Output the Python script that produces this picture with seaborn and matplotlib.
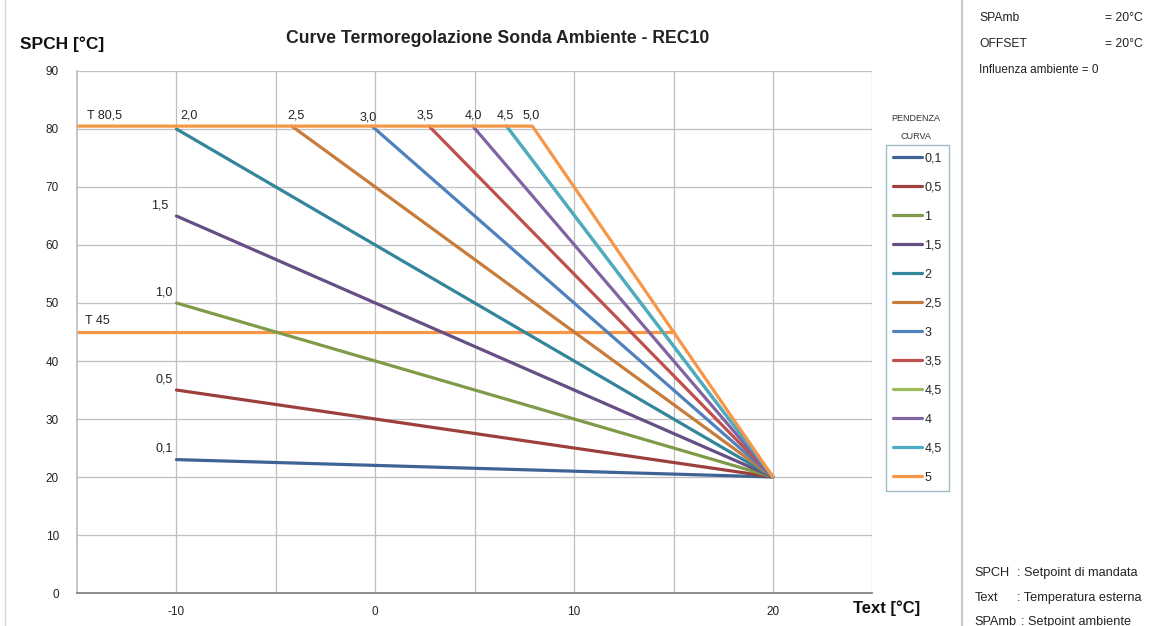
import matplotlib
matplotlib.use("Agg")
import matplotlib.pyplot as plt
import seaborn as sns
import pandas as pd
from matplotlib.lines import Line2D

sns.set_theme(style="white")
plt.rcParams["font.family"] = ["Liberation Sans", "DejaVu Sans"]
plt.rcParams["axes.unicode_minus"] = False

# curve data: each slope line runs from its start point down to (20, 20)
curve_labels = ["0,1", "0,5", "1", "1,5", "2", "2,5", "3", "3,5", "4,5", "4", "4,5", "5"]
start_x = [-10, -10, -10, -10, -10, -4.2, -0.17, 2.7, 6.6, 4.9, 6.6, 7.9]
start_y = [23, 35, 50, 65, 80, 80.5, 80.5, 80.5, 80.5, 80.5, 80.5, 80.5]
end_x, end_y = 20, 20
colors = ["#3E6496", "#9C403D", "#7F9B49", "#664F84", "#32869C", "#C77C3A",
          "#4F81BD", "#C0504D", "#9BBB59", "#8064A2", "#4BACC6", "#F79646"]

# limit lines
t80_x = [-15, 7.9]
t80_y = [80.5, 80.5]
t45_x = [-15, 15]
t45_y = [45, 45]

# labels on the chart
lab_text = ["T 80,5", "2,0", "2,5", "3,0", "3,5", "4,0", "4,5", "5,0",
            "1,5", "1,0", "0,5", "0,1", "T 45"]
lab_x = [-14.5, -9.8, -4.4, -0.8, 2.1, 4.5, 6.1, 7.4, -10.4, -10.2, -10.2, -10.2, -14.6]
lab_y = [81.3, 81.3, 81.3, 80.9, 81.3, 81.3, 81.3, 81.3, 65.8, 50.8, 35.8, 23.8, 45.8]
lab_ha = ["left"] * 8 + ["right"] * 4 + ["left"]

fig = plt.figure(figsize=(11.74, 6.26), dpi=100)
ax = fig.add_axes([0.0656, 0.0527, 0.6775, 0.8339])

grid_c = "#BFBFBF"
for gx in range(-10, 26, 5):
    ax.axvline(gx, color=grid_c, lw=0.9, zorder=0)
for gy in range(10, 91, 10):
    ax.axhline(gy, color=grid_c, lw=0.9, zorder=0)

ax.plot(t45_x, t45_y, color="#F79646", lw=2.3, zorder=2)

handles = []
for i, lab in enumerate(curve_labels):
    xs = [start_x[i], end_x]
    ys = [start_y[i], end_y]
    if lab == "5":
        xs = [t80_x[0]] + xs
        ys = [t80_y[0]] + ys
    df = pd.DataFrame({"x": xs, "y": ys})
    sns.lineplot(data=df, x="x", y="y", ax=ax, color=colors[i], lw=2.3,
                 sort=False, estimator=None, zorder=3)
    handles.append(Line2D([0], [0], color=colors[i], lw=2.3, label=lab))

for t, x, y, ha in zip(lab_text, lab_x, lab_y, lab_ha):
    ax.text(x, y, t, ha=ha, va="bottom", fontsize=9, color="#222222")

ax.set_xlim(-15, 25)
ax.set_ylim(0, 90)
ax.set_xticks([-10, 0, 10, 20])
ax.set_yticks(range(0, 91, 10))
ax.tick_params(axis="both", length=0, labelsize=8.5, colors="#222222")
ax.tick_params(axis="x", pad=9)
ax.tick_params(axis="y", pad=13)
ax.set_xlabel("")
ax.set_ylabel("")
for side in ["top", "right"]:
    ax.spines[side].set_visible(False)
ax.spines["left"].set_color(grid_c)
ax.spines["bottom"].set_color("#808080")

fig.text(0.424, 0.938, "Curve Termoregolazione Sonda Ambiente - REC10",
         ha="center", va="center", fontsize=12.7, fontweight="bold", color="#222222")
fig.text(0.017, 0.929, "SPCH [°C]", ha="left", va="center", fontsize=12.5,
         fontweight="bold", color="#111111")
fig.text(0.727, 0.028, "Text [°C]", ha="left", va="center", fontsize=12,
         fontweight="bold", color="#111111")

leg = fig.legend(handles=handles, loc="upper left", bbox_to_anchor=(0.7545, 0.768),
                 frameon=True, fontsize=9, handlelength=2.3, handletextpad=0.2,
                 labelspacing=1.36, borderpad=0.6, borderaxespad=0, fancybox=False)
leg.get_frame().set_edgecolor("#86A9B8")
leg.get_frame().set_linewidth(1.0)
fig.text(0.780, 0.796, "PENDENZA\nCURVA", ha="center", va="center",
         fontsize=6.5, color="#333333", linespacing=2.3)

fig.add_artist(Line2D([0.8195, 0.8195], [0, 1], color="#C8C8C8", lw=1.5))
fig.add_artist(Line2D([0.004, 0.004], [0, 1], color="#D8D8D8", lw=1.0))

info_c = "#222222"
fig.text(0.834, 0.971, "SPAmb", fontsize=8.7, va="center", color=info_c)
fig.text(0.941, 0.971, "= 20°C", fontsize=8.7, va="center", color=info_c)
fig.text(0.834, 0.930, "OFFSET", fontsize=8.7, va="center", color=info_c)
fig.text(0.941, 0.930, "= 20°C", fontsize=8.7, va="center", color=info_c)
fig.text(0.834, 0.888, "Influenza ambiente = 0", fontsize=8.5, va="center", color=info_c)

fig.text(0.830, 0.085, "SPCH", fontsize=9.2, va="center", color=info_c)
fig.text(0.866, 0.085, ": Setpoint di mandata", fontsize=9.2, va="center", color=info_c)
fig.text(0.830, 0.045, "Text", fontsize=9.2, va="center", color=info_c)
fig.text(0.866, 0.045, ": Temperatura esterna", fontsize=9.2, va="center", color=info_c)
fig.text(0.830, 0.006, "SPAmb", fontsize=9.2, va="center", color=info_c)
fig.text(0.870, 0.006, ": Setpoint ambiente", fontsize=9.2, va="center", color=info_c)

fig.savefig("out.png", dpi=100)
plt.close(fig)
